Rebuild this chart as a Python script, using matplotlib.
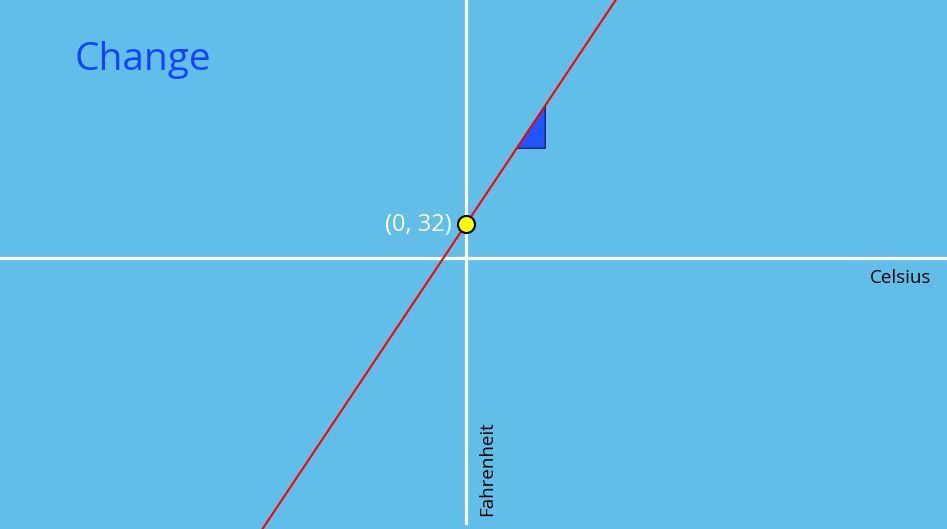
import matplotlib
matplotlib.use("Agg")
import matplotlib.pyplot as plt

# Celsius -> Fahrenheit line
celsius_ends = [-170, 130]
fahrenheit_ends = [c * 9 / 5 + 32 for c in celsius_ends]

# intercept point
point_c = [0]
point_f = [32]
point_label = "(0, 32)"

# slope triangle (C, F)
tri_c = [40.4, 63.2, 63.2]
tri_f = [c * 9 / 5 + 32 for c in [40.4, 63.2, 40.4]]

x_lim = (-371.3, 383.3)
y_lim = (-259.9, 246.8)

bg = "#60bee9"

plt.rcParams['font.family'] = ['Open Sans', 'DejaVu Sans']

fig = plt.figure(figsize=(9.47, 5.29), dpi=100)
fig.patch.set_facecolor(bg)
ax = fig.add_axes([0, 0, 1, 1])
ax.set_facecolor(bg)
ax.set_xlim(*x_lim)
ax.set_ylim(*y_lim)
for s in ax.spines.values():
    s.set_visible(False)
ax.set_xticks([])
ax.set_yticks([])

# axes lines
ax.axhline(0, color="white", lw=2.3, zorder=1)
ax.plot([0, 0], [-254, y_lim[1]], color="white", lw=2.3, zorder=1)

ax.plot(celsius_ends, fahrenheit_ends, color="#ff0000", lw=1.5, zorder=3)

ax.fill(tri_c, tri_f, facecolor="#1f55ff", edgecolor="#0a1a50", lw=0.9, zorder=2)

ax.scatter(point_c, point_f, s=150, color="#ffff00", edgecolors="black",
           linewidths=1.5, zorder=4)
ax.text(-11.5, 31, point_label, color="white", fontsize=17,
        ha="right", va="center")

ax.text(371, -19.5, "Celsius", fontsize=13.5, ha="right", va="center", color="black")
ax.text(16.5, -247, "Fahrenheit", fontsize=13.5, rotation=90,
        ha="center", va="bottom", color="black")

fig.text(75 / 947, 1 - 60 / 529, "Change", fontsize=28, color="#1443ff",
         ha="left", va="center")

fig.savefig("out.png", dpi=100, facecolor=bg)
